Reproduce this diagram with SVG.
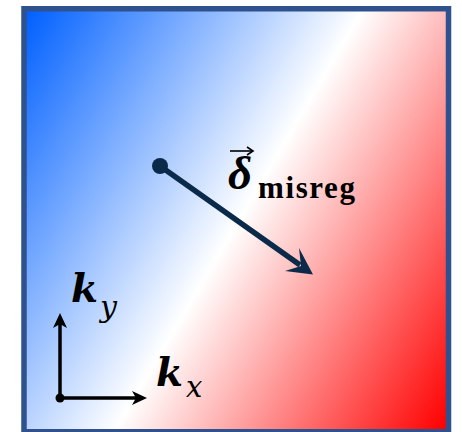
<svg xmlns="http://www.w3.org/2000/svg" width="462" height="432" viewBox="0 0 462 432">
<defs>
<linearGradient id="bg" gradientUnits="userSpaceOnUse" x1="27" y1="11" x2="520.5" y2="302.2">
<stop offset="0" stop-color="#0060ff"/>
<stop offset="0.504" stop-color="#ffffff"/>
<stop offset="1" stop-color="#ff0000"/>
</linearGradient>
</defs>
<style>
.k{font-family:"DejaVu Serif","Liberation Serif",serif;font-weight:bold;font-style:italic;fill:#000}
.sub{font-family:"DejaVu Serif","Liberation Serif",serif;font-style:italic;fill:#000}
.d{font-family:"Liberation Serif","DejaVu Serif",serif;font-weight:bold;font-style:italic;fill:#000}
.lbl{font-family:"Liberation Serif","DejaVu Serif",serif;font-weight:bold;fill:#000}
.ax{stroke:#000;stroke-width:3.5;fill:none}
</style>
<rect id="field" x="24" y="8.75" width="424.5" height="423" fill="url(#bg)" stroke="#2f528f" stroke-width="5.5"/>
<g id="connectors">
<line x1="160" y1="166" x2="300" y2="265" stroke="#0b2a4a" stroke-width="5.5"/>
<polygon points="313,274.5 299,248 301,266 285,271" fill="#0b2a4a"/>
<line class="ax" x1="60" y1="398" x2="60" y2="320"/>
<polygon points="60,313 67,328 60,324 53,328" fill="#000"/>
<line class="ax" x1="60" y1="398" x2="140" y2="398"/>
<polygon points="147,398 132,405 136,398 132,391" fill="#000"/>
</g>
<g id="origin-point"><circle cx="160" cy="166" r="8" fill="#0b2a4a"/></g>
<g id="axis-origin"><circle cx="60" cy="398" r="4.5" fill="#000"/></g>
<g id="delta-label">
<text class="d" x="228" y="189" font-size="47">δ</text>
<line x1="230" y1="151" x2="252" y2="151" stroke="#000" stroke-width="1.6"/>
<path d="M247,147 L253,151 L247,155" fill="none" stroke="#000" stroke-width="1.6"/>
<text class="lbl" x="258" y="198" font-size="31" letter-spacing="1.6">misreg</text>
</g>
<g id="ky-label">
<text class="k" x="71" y="302" font-size="39">k</text>
<text class="sub" x="100" y="317" font-size="30">y</text>
</g>
<g id="kx-label">
<text class="k" x="156" y="386" font-size="39">k</text>
<text class="sub" x="186" y="397" font-size="29">x</text>
</g>
</svg>
